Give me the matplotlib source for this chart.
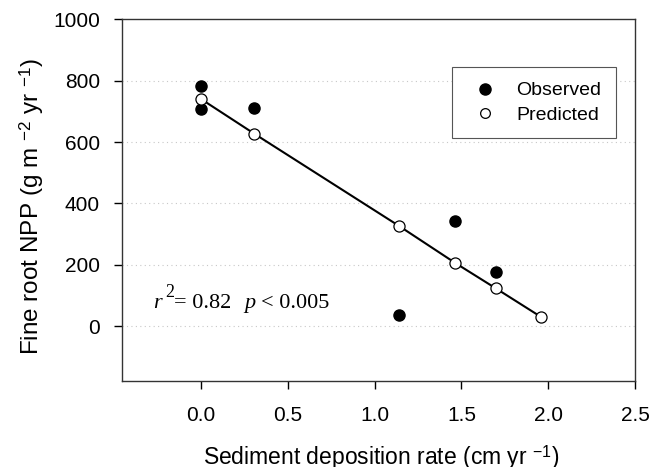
import matplotlib
matplotlib.use("Agg")
import matplotlib.pyplot as plt
from matplotlib.lines import Line2D

# data
obs_x = [0.0, 0.0, 0.307, 1.14, 1.465, 1.697]
obs_y = [781, 706, 711, 38, 344, 176]
pred_x = [0.0, 0.307, 1.14, 1.465, 1.697, 1.96]
pred_y = [740, 627, 327, 206, 124, 30]

xticks = [0.0, 0.5, 1.0, 1.5, 2.0, 2.5]
yticks = [0, 200, 400, 600, 800, 1000]

plt.rcParams['font.family'] = ['Liberation Sans', 'DejaVu Sans']
plt.rcParams['mathtext.fontset'] = 'custom'
plt.rcParams['mathtext.rm'] = 'Liberation Serif'
plt.rcParams['mathtext.it'] = 'Liberation Serif:italic'
plt.rcParams['mathtext.sf'] = 'Liberation Sans'

W, H = 663, 467
fig = plt.figure(figsize=(W / 100, H / 100), dpi=100)
ax = fig.add_axes([0.184, 0.184, 0.774, 0.775])

# grid
for yv in yticks[:-1]:
    ax.axhline(yv, color='#c8c8c8', lw=0.8, ls=(0, (1, 3)), zorder=0)

ax.plot(pred_x, pred_y, color='black', lw=1.5, zorder=2)
ax.plot(obs_x, obs_y, 'o', ms=8, mfc='black', mec='black', zorder=3)
ax.plot(pred_x, pred_y, 'o', ms=8, mfc='white', mec='black', mew=0.9, zorder=4)

# r^2 annotation, pieced together (pixel positions)
def ftxt(px, py, s, **kw):
    fig.text(px / W, 1 - py / H, s, fontfamily='Liberation Serif', ha='left',
             va='baseline', **kw)

ftxt(153, 308, 'r', fontsize=16, style='italic')
ftxt(165, 297, '2', fontsize=13)
ftxt(174, 308, '= 0.82', fontsize=16)
ftxt(244, 308, 'p', fontsize=16, style='italic')
ftxt(261, 308, '< 0.005', fontsize=16)

handles = [Line2D([], [], ls='', marker='o', ms=8, mfc='black', mec='black'),
           Line2D([], [], ls='', marker='o', ms=7, mfc='white', mec='black', mew=0.9)]
leg = ax.legend(handles, ['Observed', 'Predicted'], loc='upper right',
                bbox_to_anchor=(0.963, 0.867), borderaxespad=0, fontsize=14,
                fancybox=False, framealpha=1, edgecolor='#555555',
                handlelength=1.9, handletextpad=0.65, borderpad=0.75,
                labelspacing=0.35)
leg.get_frame().set_linewidth(0.8)

ax.set_xlim(-0.455, 2.5)
ax.set_ylim(-178, 1000)
ax.set_xticks(xticks)
ax.set_xticklabels([f'{v:.1f}' for v in xticks])
ax.set_yticks(yticks)
ax.tick_params(direction='out', length=6, width=1, labelsize=15, pad=12)
ax.tick_params(axis='y', pad=10)
for s in ax.spines.values():
    s.set_linewidth(1)
    s.set_color('#333333')

fig.text(381 / W, 1 - 465 / H, r'Sediment deposition rate (cm yr $^{\mathsf{-1}}$)',
         fontsize=16.5, ha='center', va='baseline')
fig.text(32 / W, 1 - 207 / H, r'Fine root NPP (g m $^{\mathsf{-2}}$ yr $^{\mathsf{-1}}$)',
         fontsize=17.5, ha='center', va='center', rotation=90)

fig.savefig('out.png', dpi=100)
